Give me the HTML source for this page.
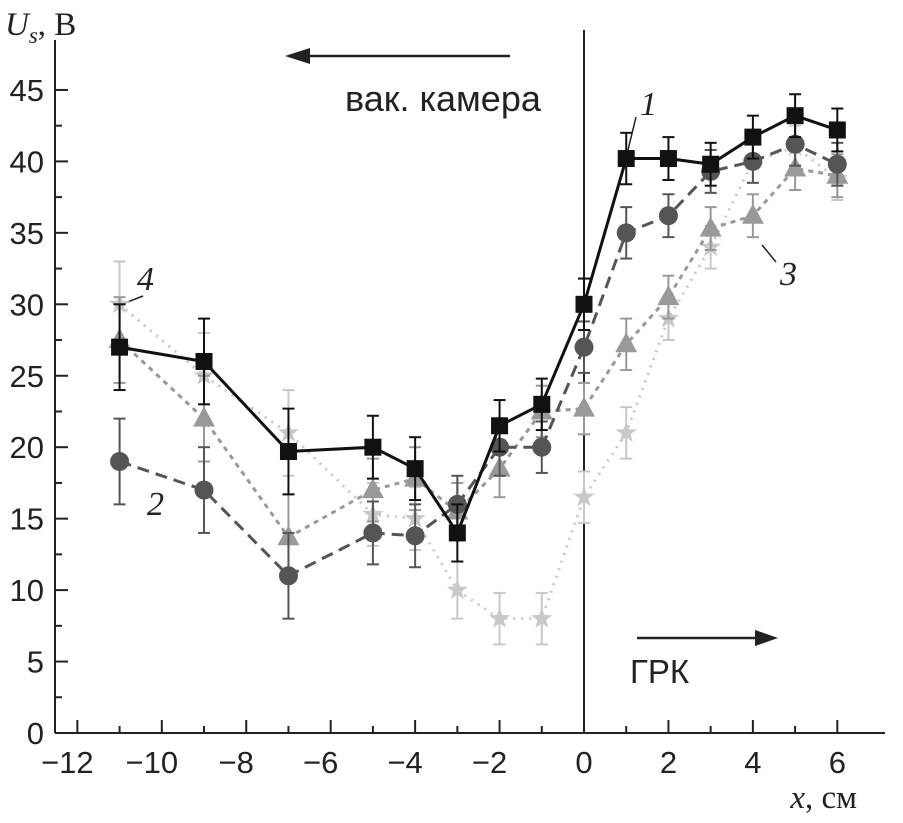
<!DOCTYPE html>
<html><head><meta charset="utf-8"><style>
body{margin:0;background:#fff}
svg{display:block;font-family:"Liberation Serif","DejaVu Serif",serif}
.sans{font-family:"Liberation Sans","DejaVu Sans",sans-serif}
</style></head><body>
<svg id="c" width="903" height="823" viewBox="0 0 903 823">
<g id="axes"></g><g id="plot"></g>
</svg>
<script>
const xs=[-11,-9,-7,-5,-4,-3,-2,-1,0,1,2,3,4,5,6];
const s1=[27,26,19.7,20,18.5,14,21.5,23,30,40.2,40.2,39.8,41.7,43.2,42.2];
const s2=[19,17,11,14,13.8,16,20,20,27,35,36.2,39.3,40,41.2,39.8];
const s3=[27.5,22,13.7,17,17.8,15.5,18.5,22.5,22.7,27.2,30.5,35.3,36.2,39.5,39];
const s4=[30,25,21,15.3,15,10,8,8,16.5,21,29,34,40,41,38.8];
const e1=[3,3,3,2.2,2.2,2,1.8,1.8,1.8,1.8,1.5,1.5,1.5,1.5,1.5];
const e2=[3,3,3,2.2,2.2,2,2,1.8,1.8,1.8,1.5,1.5,1.5,1.5,1.5];
const e3=[3,3,3,2.2,2.2,2,2,1.8,1.8,1.8,1.5,1.5,1.5,1.5,1.5];
const e4=[3,3,3,2.2,2.2,2,1.8,1.8,1.8,1.8,1.5,1.5,1.5,1.5,1.5];
const xTicks=[-12,-10,-8,-6,-4,-2,0,2,4,6];
const yTicks=[0,5,10,15,20,25,30,35,40,45];
const X=v=>584+v*42.22, Y=v=>733-v*14.29;
const NS="http://www.w3.org/2000/svg";
function mk(t,a,p,txt){const e=document.createElementNS(NS,t);for(const k in a)e.setAttribute(k,a[k]);if(txt!==undefined)e.textContent=txt;p.appendChild(e);return e;}
const ax=document.getElementById('axes'),pl=document.getElementById('plot');
let e;
e=mk('line',{x1:55,y1:733,x2:885,y2:733,stroke:'#222','stroke-width':2},ax);

e=mk('line',{x1:55,y1:40,x2:55,y2:733,stroke:'#222','stroke-width':2},ax);

e=mk('line',{x1:584,y1:30,x2:584,y2:733,stroke:'#222','stroke-width':2},ax);

xTicks.forEach(t=>{mk('line',{x1:X(t),y1:733,x2:X(t),y2:720,stroke:'#222','stroke-width':2},ax);
e=mk('text',{x:X(t)-(t<0?10:0),y:773,'font-size':31,'text-anchor':'middle',fill:'#222',class:'sans'},ax,(t<0?'\u2212':'')+Math.abs(t));
});
for(let t=-11;t<=5;t+=2)mk('line',{x1:X(t),y1:733,x2:X(t),y2:726,stroke:'#222','stroke-width':2},ax);
yTicks.forEach(t=>{mk('line',{x1:55,y1:Y(t),x2:68,y2:Y(t),stroke:'#222','stroke-width':2},ax);
e=mk('text',{x:44,y:Y(t)+11,'font-size':31,'text-anchor':'end',fill:'#222',class:'sans'},ax,t);
});
for(let t=2.5;t<45;t+=5)mk('line',{x1:55,y1:Y(t),x2:62,y2:Y(t),stroke:'#222','stroke-width':2},ax);
e=mk('text',{x:5,y:35,'font-size':33,fill:'#222'},ax);e.innerHTML='<tspan font-style="italic">U</tspan><tspan font-style="italic" font-size="23" dy="8">s</tspan><tspan dy="-8">, В</tspan>';

e=mk('text',{x:857,y:808,'font-size':33,'text-anchor':'end',fill:'#222'},ax);e.innerHTML='<tspan font-style="italic">x</tspan>, см';

e=mk('text',{x:345,y:111,'font-size':36,fill:'#222',class:'sans'},ax,'вак. камера');

mk('line',{x1:510,y1:56,x2:300,y2:56,stroke:'#222','stroke-width':2.5},ax);
mk('polygon',{points:'285,56 310,48 310,64',fill:'#222'},ax);
e=mk('text',{x:630,y:683,'font-size':33,fill:'#222',class:'sans'},ax,'ГРК');

mk('line',{x1:637,y1:638,x2:760,y2:638,stroke:'#222','stroke-width':2.5},ax);
mk('polygon',{points:'778,638 755,630 755,646',fill:'#222'},ax);
[['1',640,115],['2',147,515],['3',780,285],['4',137,290]].forEach(a=>{e=mk('text',{x:a[1],y:a[2],'font-size':34,'font-style':'italic',fill:'#222'},ax,a[0]);
});
mk('line',{x1:636,y1:117,x2:628,y2:150,stroke:'#222','stroke-width':1.5},ax);
mk('line',{x1:776,y1:262,x2:762,y2:245,stroke:'#222','stroke-width':1.5},ax);
mk('line',{x1:143,y1:296,x2:125,y2:303,stroke:'#222','stroke-width':1.5},ax);

const series=[
 {d:s4,e:e4,c:'#c8c8c8',dash:'2,6',m:'star',n:'series-4'},
 {d:s3,e:e3,c:'#999',dash:'5,5',m:'tri',n:'series-3'},
 {d:s2,e:e2,c:'#555',dash:'12,7',m:'circ',n:'series-2'},
 {d:s1,e:e1,c:'#111',dash:'',m:'sq',n:'series-1'}];
series.forEach(s=>{
 const g=mk('g',{},pl);
 xs.forEach((x,i)=>{const px=X(x);mk('line',{x1:px,y1:Y(s.d[i]-s.e[i]),x2:px,y2:Y(s.d[i]+s.e[i]),stroke:s.c,'stroke-width':2},g);
  [s.d[i]-s.e[i],s.d[i]+s.e[i]].forEach(v=>mk('line',{x1:px-6,x2:px+6,y1:Y(v),y2:Y(v),stroke:s.c,'stroke-width':2},g));});
 const ln=mk('polyline',{points:xs.map((x,i)=>X(x)+','+Y(s.d[i])).join(' '),fill:'none',stroke:s.c,'stroke-width':3,'stroke-dasharray':s.dash},g);
 
 xs.forEach((x,i)=>{const px=X(x),py=Y(s.d[i]);let m;
  if(s.m==='sq')m=mk('rect',{x:px-8.5,y:py-8.5,width:17,height:17,fill:s.c},g);
  else if(s.m==='circ')m=mk('circle',{cx:px,cy:py,r:9.5,fill:s.c},g);
  else if(s.m==='tri')m=mk('polygon',{points:`${px},${py-12} ${px-11},${py+8} ${px+11},${py+8}`,fill:s.c},g);
  else{let q=[];for(let k=0;k<10;k++){const r=k%2?4.5:11,a=-Math.PI/2+k*Math.PI/5;q.push((px+r*Math.cos(a)).toFixed(1)+','+(py+r*Math.sin(a)).toFixed(1));}m=mk('polygon',{points:q.join(' '),fill:s.c},g);}
  });
});
</script>
</body></html>
